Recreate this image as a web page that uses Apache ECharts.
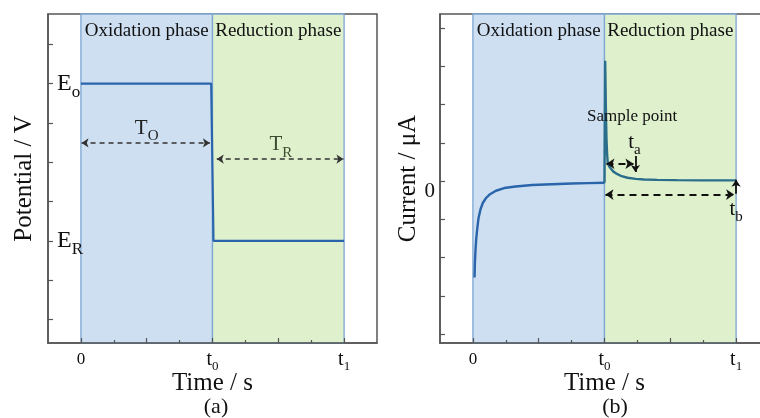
<!DOCTYPE html>
<html><head><meta charset="utf-8">
<script src="https://cdn.jsdelivr.net/npm/echarts@6/dist/echarts.min.js"></script>
<style>html,body{margin:0;padding:0;background:#fff}#c{width:760px;height:418px}</style>
</head><body><div id="c"></div>
<script>
// ---------- data ----------
const timeTickValues = [0, 4, 8];
const timeTickMain = ['0', 't', 't'];
const timeTickSub = ['', '0', '1'];
const timeMajorTicks = [0, 2, 4, 6, 8];
const timeMinorTicks = [1, 3, 5, 7];

const phaseNames = ['Oxidation phase', 'Reduction phase'];
const phaseStart = [0, 4];
const phaseEnd = [4, 8];

// panel (a)
const potentialTicks = [1, 2, 3, 4, 5, 6, 7, 8];
const potentialLabelValues = [7, 3];
const potentialLabelSub = ['o', 'R'];
const potentialTime = [0, 3.96, 4.03, 8];
const potentialValue = [7, 7, 3, 3];
const arrowTO = [[0.02, 5.49], [3.92, 5.49]];
const arrowTR = [[4.13, 5.08], [7.98, 5.08]];
const textA = ['T|O', 'T|R'];
const textAPos = [[2.0, 5.87], [6.08, 5.44]];

// panel (b)
const currentTicks = [-4, -3, -2, -1, 0, 1, 2, 3, 4];
const currentLabelValues = [0];
const timeOx = [0.05, 0.06, 0.08, 0.10, 0.13, 0.17, 0.23, 0.30, 0.40, 0.52, 0.70, 0.95, 1.3, 1.8, 2.4, 3.0, 3.5, 4.0];
const currentOx = [-2.52, -2.15, -1.79, -1.52, -1.26, -0.97, -0.74, -0.57, -0.44, -0.34, -0.25, -0.18, -0.14, -0.10, -0.08, -0.06, -0.05, -0.04];
const timeRed = [4.0, 4.02, 4.03, 4.04, 4.05, 4.06, 4.08, 4.10, 4.14, 4.19, 4.27, 4.38, 4.52, 4.70, 4.95, 5.2, 5.6, 6.2, 7.0, 8.0];
const currentRed = [-0.04, 3.15, 2.6, 2.0, 1.5, 1.1, 0.7, 0.46, 0.39, 0.33, 0.25, 0.19, 0.13, 0.09, 0.06, 0.045, 0.035, 0.028, 0.022, 0.02];
const arrowTa = [[4.06, 0.455], [4.88, 0.455]];
const arrowTb = [[4.03, -0.35], [7.94, -0.35]];
const markerTa = [[4.94, 0.66], [4.94, 0.24]];
const markerTb = [[8.0, -0.33], [8.0, 0.04]];
const textB = ['Sample point|', 't|a', 't|b'];
const textBPos = [[4.84, 1.70], [4.91, 1.01], [8.0, -0.74]];

// ---------- chart ----------
const FONT = "'Liberation Serif','Times New Roman',serif";
const TXT = '#111';
const AX = '#555';
const chart = echarts.init(document.getElementById('c'), null, {renderer: 'canvas'});

function timeLabel(v) {
  const i = timeTickValues.indexOf(v);
  if (i < 0) return '';
  return timeTickSub[i] ? '{t|' + timeTickMain[i] + '}{s|' + timeTickSub[i] + '}' : '{n|' + timeTickMain[i] + '}';
}
const tickRich = {
  n: {fontSize: 17, lineHeight: 22, fontFamily: FONT, color: TXT},
  t: {fontSize: 20, lineHeight: 22, fontFamily: FONT, color: TXT},
  s: {fontSize: 13, height: 8, lineHeight: 8, verticalAlign: 'bottom', fontFamily: FONT, color: TXT}
};
function timeAxis(g) {
  return {
    type: 'value', gridIndex: g, min: -1, max: 9, position: 'bottom', z: 5,
    axisLine: {show: true, onZero: false, lineStyle: {color: AX, width: 1.5}},
    axisTick: {show: true, inside: true, length: 5, customValues: timeMajorTicks, lineStyle: {color: AX, width: 1.2}},
    axisLabel: {customValues: timeTickValues, margin: 6, formatter: timeLabel, rich: tickRich},
    splitLine: {show: false},
    name: 'Time / s', nameLocation: 'middle', nameGap: 28, nameMoveOverlap: false,
    nameTextStyle: {fontSize: 25, color: TXT, fontFamily: FONT}
  };
}
function minorAxis(g) {
  return {
    type: 'value', gridIndex: g, min: -1, max: 9, position: 'bottom', z: 5,
    axisLine: {show: false, onZero: false},
    axisTick: {show: true, inside: true, length: 3, customValues: timeMinorTicks, lineStyle: {color: AX, width: 1.2}},
    axisLabel: {show: false}, splitLine: {show: false}
  };
}
function hiddenY(g) {
  return {type: 'value', gridIndex: g, min: 0, max: 1, show: false};
}
function phaseArea() {
  const fills = ['#cddff1', '#dff0cd'];
  return {
    silent: true,
    itemStyle: {borderColor: '#7ea6d3', borderWidth: 1.3},
    label: {show: true, position: 'insideTop', distance: 8, fontSize: 19, color: TXT, fontFamily: FONT},
    data: phaseStart.map((s, i) => [
      {xAxis: s, name: phaseNames[i], itemStyle: {color: fills[i]}},
      {xAxis: phaseEnd[i]}
    ])
  };
}
function richText(str) {
  const p = str.split('|');
  if (p[1] === '') return '{m|' + p[0] + '}';
  return '{b|' + p[0] + '}{s|' + p[1] + '}';
}
function textSeries(xi, yi, items, pos, colors, mSize) {
  return {
    type: 'scatter', xAxisIndex: xi, yAxisIndex: yi, symbolSize: 1, silent: true, z: 10,
    itemStyle: {color: 'transparent', opacity: 1},
    data: items.map((t, i) => ({
      value: pos[i],
      label: {
        show: true, position: 'inside', formatter: richText(t), color: colors[i], textBorderWidth: 0, opacity: 1,
        rich: {
          m: {fontSize: mSize, fontFamily: FONT, color: colors[i]},
          b: {fontSize: 21, lineHeight: 24, fontFamily: FONT, color: colors[i]},
          s: {fontSize: 15, height: 8, lineHeight: 8, verticalAlign: 'bottom', fontFamily: FONT, color: colors[i]}
        }
      }
    }))
  };
}
function arrowSeries(xi, yi, coordsList, symbols, style, size) {
  return {
    type: 'lines', coordinateSystem: 'cartesian2d', xAxisIndex: xi, yAxisIndex: yi,
    silent: true, z: 8, symbol: symbols, symbolSize: size,
    lineStyle: style,
    data: coordsList.map(c => ({coords: c}))
  };
}

const gridA = {left: 48, top: 14, width: 329, height: 329, containLabel: false, outerBoundsMode: 'none'};
const gridB = {left: 440, top: 14, width: 329, height: 329, containLabel: false, outerBoundsMode: 'none'};
const option = {
  animation: false,
  backgroundColor: '#fff',
  grid: [
    Object.assign({show: true, borderColor: AX, borderWidth: 1.5, backgroundColor: 'transparent'}, gridA),
    Object.assign({show: true, borderColor: AX, borderWidth: 1.5, backgroundColor: 'transparent'}, gridB),
    Object.assign({show: false}, gridA),
    Object.assign({show: false}, gridB)
  ],
  xAxis: [timeAxis(0), minorAxis(2), timeAxis(1), minorAxis(3)],
  yAxis: [
    {
      type: 'value', gridIndex: 0, min: 0.4, max: 8.77, z: 5,
      axisLine: {show: true, onZero: false, lineStyle: {color: AX, width: 1.5}},
      axisTick: {show: true, inside: true, length: 5, customValues: potentialTicks, lineStyle: {color: AX, width: 1.2}},
      axisLabel: {
        inside: true, margin: 9, customValues: potentialLabelValues,
        formatter: v => {
          const i = potentialLabelValues.indexOf(v);
          return i < 0 ? '' : '{E|E}{s|' + potentialLabelSub[i] + '}';
        },
        rich: {
          E: {fontSize: 24, lineHeight: 26, fontFamily: FONT, color: TXT},
          s: {fontSize: 17, height: 8, lineHeight: 8, verticalAlign: 'bottom', fontFamily: FONT, color: TXT}
        }
      },
      splitLine: {show: false},
      name: 'Potential / V', nameLocation: 'middle', nameGap: 11, nameMoveOverlap: false,
      nameTextStyle: {fontSize: 25, color: TXT, fontFamily: FONT}
    },
    {
      type: 'value', gridIndex: 1, min: -4.23, max: 4.37, z: 5,
      axisLine: {show: true, onZero: false, lineStyle: {color: AX, width: 1.5}},
      axisTick: {show: true, inside: true, length: 5, customValues: currentTicks, lineStyle: {color: AX, width: 1.2}},
      axisLabel: {customValues: currentLabelValues, margin: 5, verticalAlign: 'top', fontSize: 21, color: TXT, fontFamily: FONT},
      splitLine: {show: false},
      name: 'Current / μA', nameLocation: 'middle', nameGap: 18,
      nameTextStyle: {fontSize: 25, color: TXT, fontFamily: FONT}
    },
    hiddenY(2),
    hiddenY(3)
  ],
  graphic: [
    {type: 'text', x: 216, y: 407, style: {text: '(a)', fontSize: 22, fontFamily: FONT, fill: TXT, align: 'center', verticalAlign: 'middle'}},
    {type: 'text', x: 615, y: 407, style: {text: '(b)', fontSize: 22, fontFamily: FONT, fill: TXT, align: 'center', verticalAlign: 'middle'}}
  ],
  series: [
    {
      type: 'line', xAxisIndex: 0, yAxisIndex: 0, symbol: 'none', z: 6,
      lineStyle: {color: '#2a64aa', width: 2.2},
      data: potentialTime.map((t, i) => [t, potentialValue[i]]),
      markArea: phaseArea()
    },
    arrowSeries(0, 0, [arrowTO, arrowTR], ['arrow', 'arrow'], {color: '#333', width: 1.6, type: [5, 4], opacity: 1}, 7),
    textSeries(0, 0, textA, textAPos, ['#222', '#3a4c30'], 18),
    {
      type: 'line', xAxisIndex: 2, yAxisIndex: 1, symbol: 'none', z: 6,
      lineStyle: {color: '#2a64aa', width: 2.4},
      data: timeOx.map((t, i) => [t, currentOx[i]]),
      markArea: phaseArea()
    },
    {
      type: 'line', xAxisIndex: 2, yAxisIndex: 1, symbol: 'none', z: 6,
      lineStyle: {color: '#2b6e8c', width: 2.4},
      data: timeRed.map((t, i) => [t, currentRed[i]])
    },
    arrowSeries(2, 1, [arrowTa, arrowTb], ['arrow', 'arrow'], {color: '#111', width: 2, type: [7, 5], opacity: 1}, 8),
    arrowSeries(2, 1, [markerTa, markerTb], ['none', 'arrow'], {color: '#111', width: 1.8, type: 'solid', opacity: 1}, 7),
    textSeries(2, 1, textB, textBPos, ['#111', '#111', '#111'], 17)
  ]
};
chart.setOption(option);
</script>
</body></html>
